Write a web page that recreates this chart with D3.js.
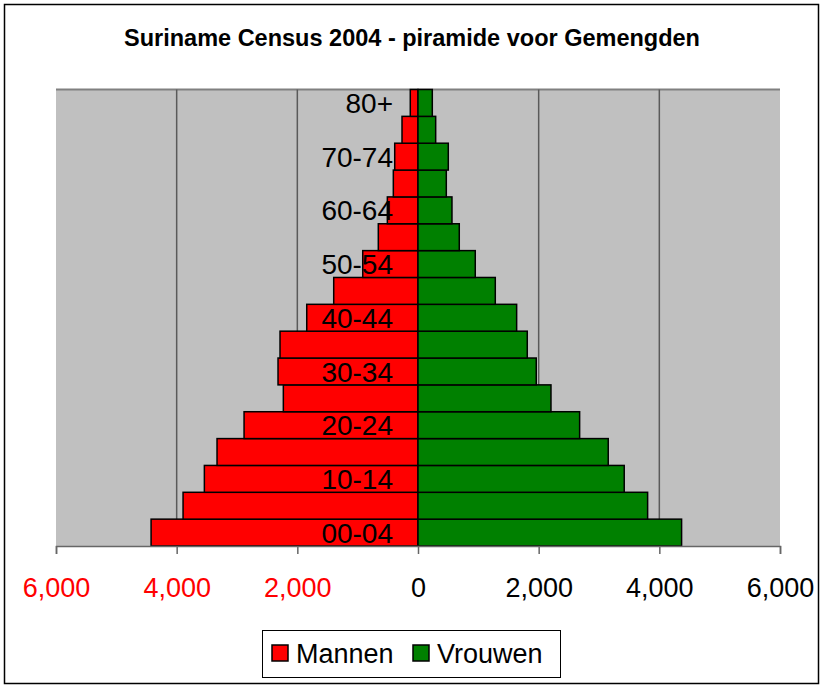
<!DOCTYPE html>
<html>
<head>
<meta charset="utf-8">
<script src="https://cdn.jsdelivr.net/npm/d3@7"></script>
<style>
  body { margin: 0; background: #fff; }
  text { font-family: "Liberation Sans", Arial, sans-serif; }
</style>
</head>
<body>
<div id="chart"></div>
<script>
// age groups from bottom (youngest) to top (oldest)
let ageGroups = ["00-04", "05-09", "10-14", "15-19", "20-24", "25-29", "30-34", "35-39", "40-44",
                 "45-49", "50-54", "55-59", "60-64", "65-69", "70-74", "75-79", "80+"];
let mannen = [4424, 3894, 3541, 3331, 2883, 2232, 2320, 2287, 1844, 1397, 916, 658, 508, 409, 386, 265, 128];
let vrouwen = [4369, 3806, 3418, 3153, 2679, 2204, 1960, 1811, 1635, 1281, 949, 684, 563, 469, 502, 293, 237];
let tickValues = [-6000, -4000, -2000, 0, 2000, 4000, 6000];
let seriesNames = ["Mannen", "Vrouwen"];
let seriesColors = ["#ff0000", "#008000"];

function graph(id) {
    let width = 822, height = 686;
    let left = 56, right = 780, top = 89.5, bottom = 546;

    let svg = d3.select(id).append("svg")
            .attr("width", width)
            .attr("height", height);

    // outer frame
    svg.append("rect")
        .attr("x", 4.5).attr("y", 4.5)
        .attr("width", 814).attr("height", 679)
        .attr("fill", "#fff").attr("stroke", "#000").attr("stroke-width", 1.5);

    svg.append("text")
        .attr("x", 412).attr("y", 46)
        .attr("text-anchor", "middle")
        .style("font-size", "23.5px").style("font-weight", "bold")
        .text("Suriname Census 2004 - piramide voor Gemengden");

    let x = d3.scaleLinear().domain([-6000, 6000]).range([left, right]);
    let y = d3.scaleBand().domain(ageGroups).range([bottom, top]).padding(0);

    // plot area
    svg.append("rect")
        .attr("x", left).attr("y", top)
        .attr("width", right - left).attr("height", bottom - top)
        .attr("fill", "#c0c0c0");
    svg.append("line")
        .attr("x1", left).attr("x2", right).attr("y1", top).attr("y2", top)
        .attr("stroke", "#808080").attr("stroke-width", 2);

    svg.selectAll(".grid")
        .data(tickValues.filter((d) => d != 0 && Math.abs(d) != 6000))
        .enter()
        .append("line")
        .attr("x1", (d) => x(d)).attr("x2", (d) => x(d))
        .attr("y1", top).attr("y2", bottom)
        .attr("stroke", "#5a5a5a").attr("stroke-width", 1.5);

    let rows = ageGroups.map((g, i) => ({group: g, m: mannen[i], v: vrouwen[i]}));

    svg.selectAll(".man")
        .data(rows)
        .enter()
        .append("rect")
        .attr("x", (d) => x(-d.m))
        .attr("y", (d) => y(d.group))
        .attr("width", (d) => x(0) - x(-d.m))
        .attr("height", y.bandwidth())
        .attr("fill", seriesColors[0])
        .attr("stroke", "#000").attr("stroke-width", 1.5);

    svg.selectAll(".vrouw")
        .data(rows)
        .enter()
        .append("rect")
        .attr("x", x(0))
        .attr("y", (d) => y(d.group))
        .attr("width", (d) => x(d.v) - x(0))
        .attr("height", y.bandwidth())
        .attr("fill", seriesColors[1])
        .attr("stroke", "#000").attr("stroke-width", 1.5);

    // every other age label, drawn over the bars
    svg.selectAll(".agelabel")
        .data(rows.filter((d, i) => i % 2 == 0))
        .enter()
        .append("text")
        .attr("x", x(0) - 25)
        .attr("y", (d) => y(d.group) + y.bandwidth() / 2)
        .attr("dy", "0.36em")
        .attr("text-anchor", "end")
        .style("font-size", "28px")
        .text((d) => d.group);

    // x axis
    let axis = d3.axisBottom(x)
            .tickValues(tickValues)
            .tickSize(8)
            .tickFormat((d) => d3.format(",")(Math.abs(d)));
    let gx = svg.append("g")
            .attr("transform", `translate(0,${bottom})`)
            .call(axis);
    gx.select(".domain").attr("stroke", "#666").attr("stroke-width", 1.5);
    gx.selectAll(".tick line").attr("stroke", "#666").attr("stroke-width", 1.5);
    gx.selectAll(".tick text")
        .attr("y", 32)
        .style("font-family", "'Liberation Sans', Arial, sans-serif")
        .style("font-size", "27px")
        .attr("fill", (d) => d < 0 ? "#ff0000" : "#000");

    // legend
    let legend = svg.append("g").attr("transform", "translate(262,630)");
    legend.append("rect")
        .attr("x", 0.5).attr("y", 0.5).attr("width", 298).attr("height", 47)
        .attr("fill", "#fff").attr("stroke", "#000");
    let offsets = [10, 151];
    seriesNames.forEach((name, i) => {
        legend.append("rect")
            .attr("x", offsets[i]).attr("y", 15)
            .attr("width", 16).attr("height", 16)
            .attr("fill", seriesColors[i]).attr("stroke", "#000").attr("stroke-width", 1.5);
        legend.append("text")
            .attr("x", offsets[i] + 24).attr("y", 33)
            .style("font-size", "27px")
            .text(name);
    });
}

graph("#chart");
</script>
</body>
</html>
